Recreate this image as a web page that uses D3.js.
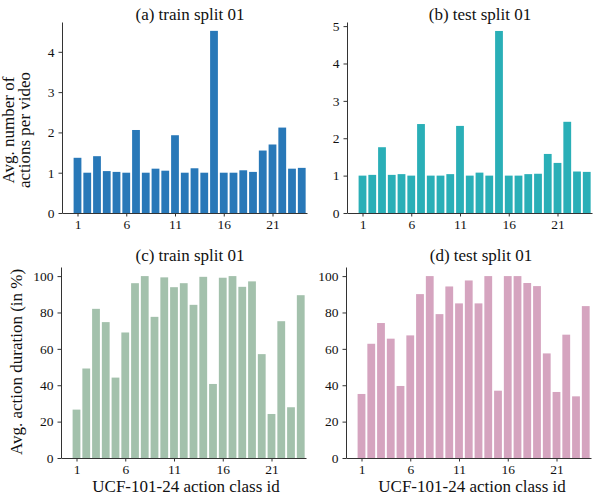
<!DOCTYPE html>
<html>
<head>
<meta charset="utf-8">
<script src="https://cdn.jsdelivr.net/npm/d3@7"></script>
<style>
  body { margin: 0; background: #fff; }
  svg text { font-family: "Liberation Serif", "Times New Roman", "DejaVu Serif", serif !important; fill: #111; }
  .axis path, .axis line { stroke: #333; stroke-width: 1; }
  .axis text { font-size: 13.5px; }
</style>
</head>
<body>
<script>
  // class ids on the x axis and the ticks that are labelled
  var classIds = [1,2,3,4,5,6,7,8,9,10,11,12,13,14,15,16,17,18,19,20,21,22,23,24];
  var xTicks = [1, 6, 11, 16, 21];

  // avg. number of actions per video
  var trainCount = [1.37,1.00,1.41,1.04,1.02,1.00,2.06,1.00,1.10,1.05,1.93,1.00,1.11,1.00,4.52,1.00,1.00,1.06,1.02,1.55,1.70,2.12,1.10,1.12];
  var testCount  = [1.00,1.02,1.76,1.02,1.04,1.00,2.38,1.00,1.00,1.04,2.33,1.00,1.08,1.00,4.87,1.00,1.00,1.04,1.05,1.58,1.34,2.44,1.11,1.10];

  // avg. action duration (in %)
  var trainDur = [26.6,49.2,82.0,74.7,44.2,69.0,96.1,100,77.6,99.3,93.9,96.1,84.2,99.6,40.7,99.1,100,94.1,97.1,57.1,24.2,75.2,27.9,89.5];
  var testDur  = [35.2,62.8,74.2,65.6,39.6,67.4,90.1,100,79.1,94.3,85.0,97.6,85.0,100,37.0,100,100,96.2,94.5,57.5,36.3,67.8,33.9,83.5];

  var countTicksA = [0,1,2,3,4];
  var countTicksB = [0,1,2,3,4,5];
  var durTicks = [0,20,40,60,80,100];

  var svg = d3.select("body").append("svg")
    .attr("width", 603)
    .attr("height", 497)
    .attr("font-family", "Liberation Serif, serif");

  var panels = [
    {title: "(a) train split 01", values: trainCount, ticks: countTicksA, ymax: 4.74, spine: 62,  y0: 213, top: 22,  color: "#2878b8", titleX: 190, titleY: 20},
    {title: "(b) test split 01",  values: testCount,  ticks: countTicksB, ymax: 5.11, spine: 347, y0: 213, top: 22,  color: "#2aafb7", titleX: 480, titleY: 20},
    {title: "(c) train split 01", values: trainDur,   ticks: durTicks,    ymax: 105,  spine: 61,  y0: 458, top: 267, color: "#a3c1ac", titleX: 190, titleY: 261},
    {title: "(d) test split 01",  values: testDur,    ticks: durTicks,    ymax: 105,  spine: 346, y0: 458, top: 267, color: "#d5a4bf", titleX: 481, titleY: 261}
  ];

  var step = 9.75;

  panels.forEach(function(p) {
    var g = svg.append("g");

    // x: bar 1 sits 15.5px right of the y spine
    var x = d3.scaleLinear()
      .domain([1 - 15.5 / step, 1 - 15.5 / step + 245 / step])
      .range([p.spine, p.spine + 245]);

    var y = d3.scaleLinear()
      .domain([0, p.ymax])
      .range([p.y0, p.top]);

    var bw = 0.8 * step;

    g.selectAll(".bar")
      .data(p.values)
      .enter().append("rect")
      .attr("class", "bar")
      .attr("x", function(d, i) { return x(classIds[i]) - bw / 2; })
      .attr("y", function(d) { return y(d); })
      .attr("width", bw)
      .attr("height", function(d) { return y(0) - y(d); })
      .attr("fill", p.color);

    g.append("g")
      .attr("class", "axis")
      .attr("transform", "translate(0," + p.y0 + ")")
      .call(d3.axisBottom(x).tickValues(xTicks).tickFormat(d3.format("d")).tickSize(3.5).tickSizeOuter(0).tickPadding(3))
      .attr("font-family", null);

    g.append("g")
      .attr("class", "axis")
      .attr("transform", "translate(" + p.spine + ",0)")
      .call(d3.axisLeft(y).tickValues(p.ticks).tickFormat(d3.format("d")).tickSize(3.5).tickSizeOuter(0).tickPadding(4))
      .attr("font-family", null);

    g.append("text")
      .attr("x", p.titleX)
      .attr("y", p.titleY)
      .attr("text-anchor", "middle")
      .style("font-size", "17px")
      .text(p.title);
  });

  // y labels
  svg.append("text")
    .attr("transform", "translate(14,130) rotate(-90)")
    .attr("text-anchor", "middle")
    .style("font-size", "17px")
    .text("Avg. number of");
  svg.append("text")
    .attr("transform", "translate(30,130) rotate(-90)")
    .attr("text-anchor", "middle")
    .style("font-size", "17px")
    .text("actions per video");
  svg.append("text")
    .attr("transform", "translate(22,362) rotate(-90)")
    .attr("text-anchor", "middle")
    .style("font-size", "17px")
    .text("Avg. action duration (in %)");

  // x labels
  svg.append("text")
    .attr("x", 186)
    .attr("y", 492)
    .attr("text-anchor", "middle")
    .style("font-size", "17px")
    .text("UCF-101-24 action class id");
  svg.append("text")
    .attr("x", 472)
    .attr("y", 492)
    .attr("text-anchor", "middle")
    .style("font-size", "17px")
    .text("UCF-101-24 action class id");
</script>
</body>
</html>
